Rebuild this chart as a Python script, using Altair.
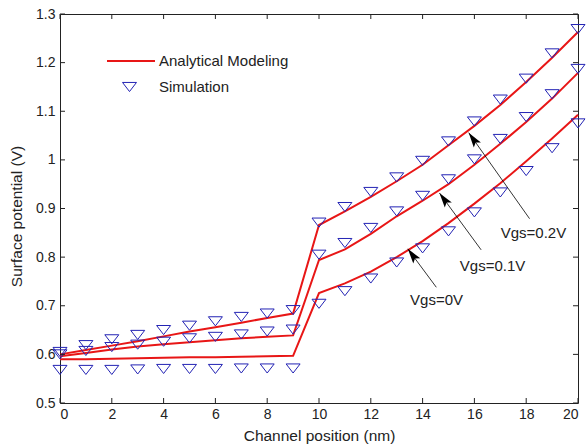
import math
import altair as alt
import pandas as pd

# Channel positions (nm)
x_pos = list(range(21))

# Analytical model, surface potential (V)
model_vgs02 = [0.600, 0.609, 0.618, 0.627, 0.637, 0.647, 0.656, 0.665, 0.675, 0.684,
               0.866, 0.894, 0.924, 0.956, 0.990, 1.030, 1.070, 1.113, 1.160, 1.210, 1.263]
model_vgs01 = [0.596, 0.603, 0.610, 0.616, 0.621, 0.625, 0.629, 0.633, 0.636, 0.639,
               0.794, 0.816, 0.848, 0.884, 0.916, 0.950, 0.990, 1.033, 1.078, 1.126, 1.179]
model_vgs00 = [0.590, 0.590, 0.591, 0.592, 0.593, 0.594, 0.594, 0.595, 0.596, 0.597,
               0.726, 0.746, 0.770, 0.800, 0.833, 0.870, 0.910, 0.952, 0.997, 1.044, 1.093]

# Device simulation, surface potential (V)
sim_vgs02 = [0.605, 0.619, 0.631, 0.640, 0.650, 0.659, 0.668, 0.677, 0.684, 0.691,
             0.871, 0.903, 0.934, 0.964, 0.998, 1.038, 1.079, 1.124, 1.167, 1.219, 1.269]
sim_vgs01 = [0.600, 0.607, 0.615, 0.620, 0.626, 0.633, 0.636, 0.641, 0.647, 0.651,
             0.805, 0.829, 0.860, 0.894, 0.926, 0.960, 1.001, 1.043, 1.088, 1.135, 1.187]
sim_vgs00 = [0.568, 0.568, 0.568, 0.569, 0.570, 0.570, 0.570, 0.571, 0.571, 0.571,
             0.704, 0.730, 0.756, 0.789, 0.818, 0.853, 0.892, 0.933, 0.977, 1.024, 1.075]

series_names = ["Vgs=0.2V", "Vgs=0.1V", "Vgs=0V"]

# Annotation arrows: tail -> head (data units) and label positions
arrow_labels = ["Vgs=0.2V", "Vgs=0.1V", "Vgs=0V"]
arrow_tail_x = [18.13, 16.26, 14.53]
arrow_tail_y = [0.879, 0.815, 0.738]
arrow_head_x = [15.78, 14.65, 13.43]
arrow_head_y = [1.056, 0.932, 0.817]
label_x = [18.28, 16.70, 14.54]
label_y = [0.850, 0.782, 0.712]

x_ticks = [0, 2, 4, 6, 8, 10, 12, 14, 16, 18, 20]
y_ticks = [0.5, 0.6, 0.7, 0.8, 0.9, 1.0, 1.1, 1.2, 1.3]

W, H = 518, 389
X_DOM, Y_DOM = [0, 20], [0.5, 1.3]
FONT = "Liberation Sans"
TXT = "#222222"
RED = "#e81616"
BLUE = "#2323b4"
TRI_DOWN = "M-1,-0.65L1,-0.65L0,0.65Z"
ARROW_HEAD = "M0,0L0.58,2L0,1.6L-0.58,2Z"
TICK = 5

rows_m, rows_s = [], []
for name, m, s in zip(series_names,
                      [model_vgs02, model_vgs01, model_vgs00],
                      [sim_vgs02, sim_vgs01, sim_vgs00]):
    for xi, mv, sv in zip(x_pos, m, s):
        rows_m.append({"x": xi, "v": mv, "series": name})
        rows_s.append({"x": xi, "v": sv, "series": name})
df_model = pd.DataFrame(rows_m)
df_sim = pd.DataFrame(rows_s)

# arrow head rotation from screen direction of each arrow
px_x = W / (X_DOM[1] - X_DOM[0])
px_y = H / (Y_DOM[1] - Y_DOM[0])
angles = []
for tx, ty, hx, hy in zip(arrow_tail_x, arrow_tail_y, arrow_head_x, arrow_head_y):
    a = math.degrees(math.atan2((hx - tx) * px_x, (hy - ty) * px_y)) % 360
    angles.append(a)
df_arrows = pd.DataFrame({
    "tx": arrow_tail_x, "ty": arrow_tail_y,
    "hx": arrow_head_x, "hy": arrow_head_y,
    "ang": angles, "label": arrow_labels,
    "lx": label_x, "ly": label_y,
})

xs = alt.Scale(domain=X_DOM, nice=False, zero=False)
ys = alt.Scale(domain=Y_DOM, nice=False, zero=False)

x_axis = alt.Axis(values=x_ticks, format="d", title="Channel position (nm)",
                  grid=False, domain=False, ticks=False, tickSize=0,
                  labelPadding=4, labelFontSize=14, labelFont=FONT, labelColor=TXT,
                  titleFontSize=15.5, titleFont=FONT, titleColor=TXT,
                  titleFontWeight="normal", titleY=32, titleBaseline="middle")
y_axis = alt.Axis(values=y_ticks, format="~g", title="Surface potential (V)",
                  grid=False, domain=False, ticks=False, tickSize=0,
                  labelPadding=5, labelFontSize=14, labelFont=FONT, labelColor=TXT,
                  titleFontSize=15.5, titleFont=FONT, titleColor=TXT,
                  titleFontWeight="normal", titleX=-44, titleY=202,
                  titleAngle=270, titleBaseline="middle", titleAlign="center")

base_x = alt.X("x:Q", scale=xs, axis=x_axis)
base_y = alt.Y("v:Q", scale=ys, axis=y_axis)

lines = alt.Chart(df_model).mark_line(color=RED, strokeWidth=2).encode(
    x=base_x, y=base_y, detail="series:N")

points = alt.Chart(df_sim).mark_point(shape=TRI_DOWN, size=196, filled=False,
                                      stroke=BLUE, strokeWidth=1, opacity=1).encode(
    x=alt.X("x:Q", scale=xs), y=alt.Y("v:Q", scale=ys), detail="series:N")

arrow_lines = alt.Chart(df_arrows).mark_rule(color="black", strokeWidth=0.8).encode(
    x=alt.X("tx:Q", scale=xs), y=alt.Y("ty:Q", scale=ys), x2="hx:Q", y2="hy:Q")

arrow_heads = alt.Chart(df_arrows).mark_point(shape=ARROW_HEAD, size=225, filled=True,
                                              color="black", opacity=1, strokeWidth=0).encode(
    x=alt.X("hx:Q", scale=xs), y=alt.Y("hy:Q", scale=ys),
    angle=alt.Angle("ang:Q", scale=None))

arrow_text = alt.Chart(df_arrows).mark_text(font=FONT, fontSize=15, color=TXT,
                                            align="center", baseline="middle").encode(
    x=alt.X("lx:Q", scale=xs), y=alt.Y("ly:Q", scale=ys), text="label:N")

# inward tick marks on all four sides of the box
df_xt = pd.DataFrame({"t": x_ticks})
df_yt = pd.DataFrame({"t": y_ticks})
xt_bottom = alt.Chart(df_xt).mark_rule(color=TXT, strokeWidth=1).encode(
    x=alt.X("t:Q", scale=xs), y=alt.value(H), y2=alt.value(H - TICK))
xt_top = alt.Chart(df_xt).mark_rule(color=TXT, strokeWidth=1).encode(
    x=alt.X("t:Q", scale=xs), y=alt.value(0), y2=alt.value(TICK))
yt_left = alt.Chart(df_yt).mark_rule(color=TXT, strokeWidth=1).encode(
    y=alt.Y("t:Q", scale=ys), x=alt.value(0), x2=alt.value(TICK))
yt_right = alt.Chart(df_yt).mark_rule(color=TXT, strokeWidth=1).encode(
    y=alt.Y("t:Q", scale=ys), x=alt.value(W), x2=alt.value(W - TICK))

# legend (no frame)
leg_line = alt.Chart(pd.DataFrame({"k": [0]})).mark_rule(color=RED, strokeWidth=2).encode(
    x=alt.value(47), x2=alt.value(95), y=alt.value(47))
leg_tri = alt.Chart(pd.DataFrame({"k": [0]})).mark_point(
    shape=TRI_DOWN, size=196, filled=False, stroke=BLUE, strokeWidth=1, opacity=1).encode(
    x=alt.value(69.5), y=alt.value(73))
leg_text = alt.Chart(pd.DataFrame({"t": ["Analytical Modeling", "Simulation"],
                                   "yy": [47, 73]})).mark_text(
    font=FONT, fontSize=15, color=TXT, align="left", baseline="middle").encode(
    x=alt.value(99), y=alt.Y("yy:Q", scale=None), text="t:N")

chart = alt.layer(
    lines, points, arrow_lines, arrow_heads, arrow_text,
    xt_bottom, xt_top, yt_left, yt_right,
    leg_line, leg_tri, leg_text,
).properties(
    width=W, height=H,
    autosize=alt.AutoSizeParams(type="none"),
    padding={"left": 60, "top": 14, "right": 8, "bottom": 45},
    background="white",
).configure_view(stroke=TXT, strokeWidth=1)

chart.save("out.html", embed_options={"renderer": "svg", "actions": False})
